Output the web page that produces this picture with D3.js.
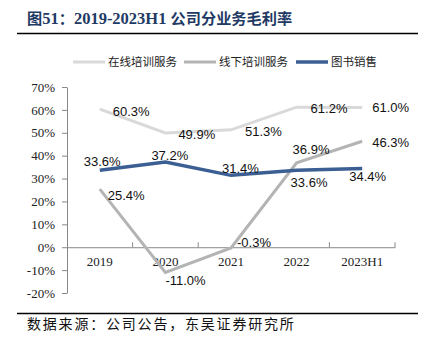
<!DOCTYPE html>
<html>
<head>
<meta charset="utf-8">
<script src="https://cdn.jsdelivr.net/npm/d3@7"></script>
<style>
  body { margin: 0; background: #fff; }
  svg { display: block; }
</style>
</head>
<body>
<script>
const years = ["2019", "2020", "2021", "2022", "2023H1"];
const online = [60.3, 49.9, 51.3, 61.2, 61.0];
const offline = [25.4, -11.0, -0.3, 36.9, 46.3];
const books = [33.6, 37.2, 31.4, 33.6, 34.4];
const yTicks = [-20, -10, 0, 10, 20, 30, 40, 50, 60, 70];

const width = 429, height = 351;
const margin = {top: 87, right: 34, bottom: 58, left: 67};

const series = [
  {name: "在线培训服务", values: online, color: "#d9d9d9",
   // label offsets (dx, dy) relative to point
   off: [[13, 2], [13, 1], [14, 2], [14, 1], [10, 0]]},
  {name: "线下培训服务", values: offline, color: "#b4b4b4",
   off: [[8, 6], [0, 8], [6, -5], [-4, -13], [10, 1]]},
  {name: "图书销售", values: books, color: "#3b5f92",
   off: [[-16, -9], [-14, -7], [-9, -7], [-6, 12], [-13, 8]]}
];

const svg = d3.select("body").append("svg")
    .attr("width", width)
    .attr("height", height);

// title
svg.append("text")
    .attr("x", 27).attr("y", 24)
    .attr("fill", "#1f3a64")
    .attr("font-weight", "bold")
    .attr("font-size", 15.2)
    .call(t => {
      t.append("tspan").attr("font-family", "Noto Sans CJK SC").text("图");
      t.append("tspan").attr("font-family", "Liberation Serif").attr("font-size", 16.5).text("51");
      t.append("tspan").attr("font-family", "Noto Sans CJK SC").text("：");
      t.append("tspan").attr("font-family", "Liberation Serif").attr("font-size", 16.5).text("2019-2023H1 ");
      t.append("tspan").attr("font-family", "Noto Sans CJK SC").text("公司分业务毛利率");
    });

svg.append("line")
    .attr("x1", 17).attr("x2", 418).attr("y1", 33.5).attr("y2", 33.5)
    .attr("stroke", "#000").attr("stroke-width", 1.5);

svg.append("line")
    .attr("x1", 17).attr("x2", 418).attr("y1", 313.5).attr("y2", 313.5)
    .attr("stroke", "#000").attr("stroke-width", 1.5);

svg.append("text")
    .attr("x", 27).attr("y", 329)
    .attr("font-family", "Noto Sans CJK SC")
    .attr("font-size", 14)
    .attr("letter-spacing", 1.8)
    .attr("fill", "#111")
    .text("数据来源：公司公告，东吴证券研究所");

const x = d3.scaleBand()
    .domain(years)
    .range([margin.left, width - margin.right]);

const y = d3.scaleLinear()
    .domain([-20, 70])
    .range([height - margin.bottom, margin.top]);

// y axis
svg.append("g")
    .attr("transform", `translate(${margin.left},0)`)
    .call(d3.axisLeft(y).tickValues(yTicks).tickFormat(d => d + "%").tickSize(5).tickSizeOuter(0))
    .call(g => g.select(".domain").attr("stroke", "#888"))
    .call(g => g.selectAll(".tick line").attr("stroke", "#888"))
    .call(g => g.selectAll(".tick text")
        .attr("x", -12)
        .attr("font-family", "Liberation Serif")
        .attr("font-size", 13)
        .attr("fill", "#222"));

// x axis at 0
svg.append("g")
    .attr("transform", `translate(0,${y(0)})`)
    .call(d3.axisBottom(x).tickSize(0).tickPadding(10))
    .call(g => g.select(".domain").attr("stroke", "#888"))
    .call(g => g.selectAll(".tick text")
        .attr("font-family", "Liberation Serif")
        .attr("font-size", 13)
        .attr("fill", "#222"));

// x category separators
svg.append("g")
    .selectAll("line")
    .data(years)
    .join("line")
    .attr("x1", d => x(d) + x.bandwidth())
    .attr("x2", d => x(d) + x.bandwidth())
    .attr("y1", y(0))
    .attr("y2", y(0) - 5)
    .attr("stroke", "#888");

const line = d3.line()
    .x((d, i) => x(years[i]) + x.bandwidth() / 2)
    .y(d => y(d));

series.forEach(s => {
  svg.append("path")
      .datum(s.values)
      .attr("fill", "none")
      .attr("stroke", s.color)
      .attr("stroke-width", s.name === "图书销售" ? 3.5 : 3)
      .attr("d", line);
});

series.forEach(s => {
  svg.append("g")
      .selectAll("text")
      .data(s.values)
      .join("text")
      .attr("x", (d, i) => x(years[i]) + x.bandwidth() / 2 + s.off[i][0])
      .attr("y", (d, i) => y(d) + s.off[i][1])
      .attr("dy", "0.35em")
      .attr("font-family", "Liberation Sans")
      .attr("font-size", 13)
      .attr("fill", "#111")
      .text(d => d.toFixed(1) + "%");
});

// legend
const legendX = [73, 184, 296];
const legend = svg.append("g");
series.forEach((s, i) => {
  const g = legend.append("g").attr("transform", `translate(${legendX[i]},62)`);
  g.append("line")
      .attr("x1", 0).attr("x2", 32)
      .attr("stroke", s.color)
      .attr("stroke-width", s.name === "图书销售" ? 3.5 : 3);
  g.append("text")
      .attr("x", 35).attr("dy", "0.35em")
      .attr("font-family", "Noto Sans CJK SC")
      .attr("font-size", 11.5)
      .attr("fill", "#222")
      .text(s.name);
});
</script>
</body>
</html>
